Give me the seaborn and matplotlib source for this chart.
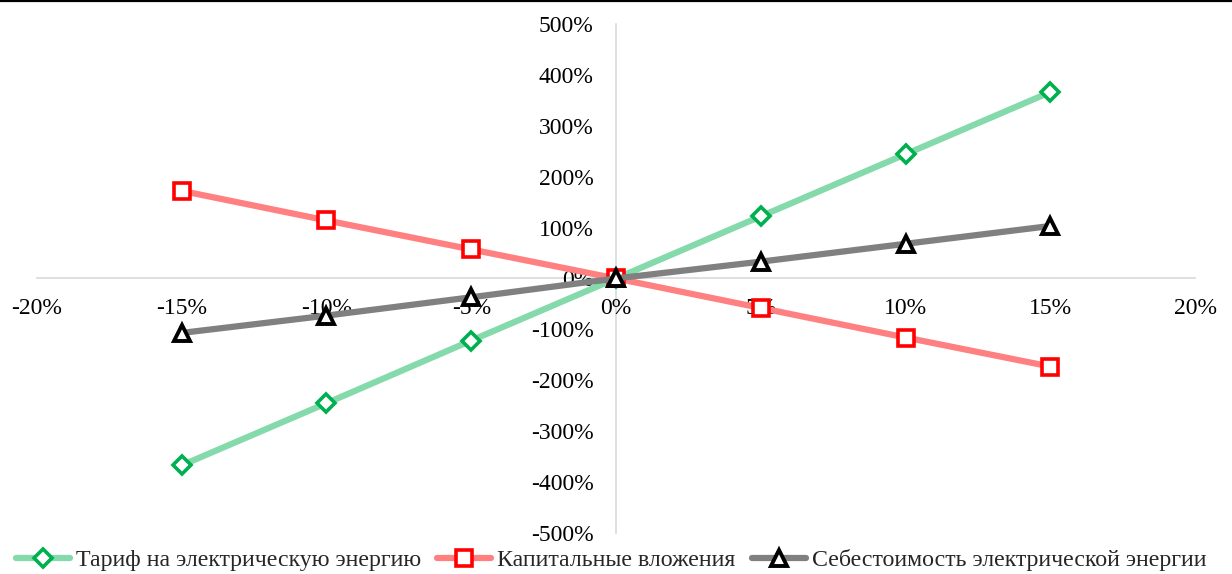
import matplotlib
matplotlib.use("Agg")
import matplotlib.pyplot as plt
from matplotlib.lines import Line2D
from matplotlib.ticker import FuncFormatter, MultipleLocator
import seaborn as sns
import pandas as pd

# Change of the input factor, %
change = [-15, -10, -5, 0, 5, 10, 15]

# Resulting change of the indicator, %
tariff = [-367, -245, -122, 0, 122, 244, 366]
capital = [172, 114, 57, 0, -58, -116, -173]
cost = [-107, -73, -37, 0, 33, 68, 103]

names = [
    "Тариф на электрическую энергию",
    "Капитальные вложения",
    "Себестоимость электрической энергии",
]

sns.set_theme(style="white")
plt.rcParams["font.family"] = ["Liberation Serif", "DejaVu Serif"]

fig = plt.figure(figsize=(12.32, 5.74), dpi=100)
ax = fig.add_axes([0.030, 0.0714, 0.940, 0.887])

styles = [
    (tariff, names[0], "#84DAAA", "D", "#00B050", 9, 2.6),
    (capital, names[1], "#FF8080", "s", "#FF0000", 12, 2.6),
    (cost, names[2], "#808080", "^", "#000000", 12, 2.8),
]
for values, name, lc, mk, mec, ms, mew in styles:
    df = pd.DataFrame({"x": change, "y": values})
    sns.lineplot(
        data=df, x="x", y="y", ax=ax, color=lc, linewidth=4.5,
        marker=mk, markersize=ms, markeredgecolor=mec,
        markerfacecolor="white", markeredgewidth=mew, label=name,
    )

ax.set_xlim(-20, 20)
ax.set_ylim(-500, 500)
ax.xaxis.set_major_locator(MultipleLocator(5))
ax.yaxis.set_major_locator(MultipleLocator(100))
pct = FuncFormatter(lambda v, _: f"{v:.0f}%")
ax.xaxis.set_major_formatter(pct)
ax.yaxis.set_major_formatter(pct)
ax.set_xlabel("")
ax.set_ylabel("")

for side in ("top", "right"):
    ax.spines[side].set_visible(False)
for side in ("left", "bottom"):
    ax.spines[side].set_position(("data", 0))
    ax.spines[side].set_color("#D9D9D9")
    ax.spines[side].set_linewidth(1.2)
    ax.spines[side].set_zorder(0)

ax.tick_params(axis="x", length=0, pad=14, labelsize=17, colors="black")
ax.tick_params(axis="y", length=0, pad=16, labelsize=17, colors="black")

ax.legend(
    loc="center", bbox_to_anchor=(0.496, 0.024), bbox_transform=fig.transFigure,
    ncol=3, frameon=False, fontsize=17.2, handlelength=2.25,
    handletextpad=0.25, columnspacing=0.7, borderaxespad=0, borderpad=0.2,
)

# Frame line along the top edge
fig.add_artist(Line2D([0, 1], [0.998, 0.998], transform=fig.transFigure,
                      color="black", linewidth=1.6))

fig.savefig("out.png", dpi=100)
